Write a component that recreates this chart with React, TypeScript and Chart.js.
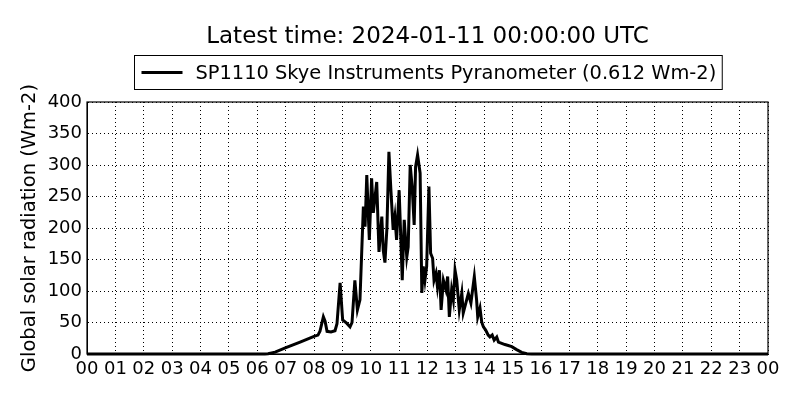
import React, { useEffect, useRef } from 'react';
import { Chart, registerables } from 'chart.js';

Chart.register(...registerables);

const titleText = 'Latest time: 2024-01-11 00:00:00 UTC';
const seriesLabel = 'SP1110 Skye Instruments Pyranometer (0.612 Wm-2)';
const yAxisTitle = 'Global solar radiation (Wm-2)';

const hours = [
  0, 6.27, 6.38, 6.63, 7.01, 7.51, 8.0, 8.14, 8.21, 8.33, 8.39, 8.46, 8.6, 8.74, 8.81, 8.92,
  9.01, 9.15, 9.27, 9.34, 9.44, 9.53, 9.62, 9.74, 9.8, 9.86, 9.95, 10.03, 10.09, 10.21, 10.29,
  10.39, 10.44, 10.5, 10.57, 10.64, 10.71, 10.79, 10.85, 10.91, 11.0, 11.07, 11.11, 11.18, 11.27,
  11.32, 11.39, 11.46, 11.53, 11.58, 11.65, 11.74, 11.8, 11.85, 11.91, 11.97, 12.05, 12.11, 12.18,
  12.23, 12.3, 12.35, 12.42, 12.48, 12.56, 12.65, 12.71, 12.77, 12.85, 12.91, 12.97, 13.03, 13.12,
  13.21, 13.26, 13.38, 13.44, 13.53, 13.65, 13.73, 13.77, 13.85, 13.91, 13.97, 14.05, 14.14, 14.2,
  14.28, 14.35, 14.44, 14.5, 14.73, 14.97, 15.14, 15.32, 15.5, 15.67, 24,
];

const radiation = [
  0, 0, 0.5, 3, 10, 19, 28, 30, 36, 59, 52, 36, 35, 37, 48, 113,
  54, 49, 43, 50, 117, 70, 86, 234, 202, 284, 181, 279, 224, 273, 162,
  218, 165, 145, 200, 321, 260, 197, 218, 181, 260, 170, 117, 213, 154,
  170, 300, 265, 205, 297, 316, 287, 97, 139, 117, 139, 266, 160, 152,
  117, 128, 107, 133, 70, 117, 102, 123, 59, 102, 86, 133, 117, 70,
  97, 65, 86, 96, 81, 123, 86, 59, 73, 51, 43, 38, 30, 27,
  30, 22, 27, 19, 15, 11.6, 7, 2.6, 0.5, 0, 0,
];

const xTickLabels = [
  '00', '01', '02', '03', '04', '05', '06', '07', '08', '09', '10', '11', '12',
  '13', '14', '15', '16', '17', '18', '19', '20', '21', '22', '23', '00',
];

const yMin = 0;
const yMax = 400;
const yStep = 50;

const FONT = '"DejaVu Sans", sans-serif';

const framePlugin = {
  id: 'frameAndLegend',
  afterDraw(chart: any) {
    const { ctx, chartArea } = chart;
    const { left, top, right, bottom } = chartArea;
    ctx.save();
    // axes frame
    ctx.strokeStyle = '#000';
    ctx.lineWidth = 1.2;
    ctx.strokeRect(left, top, right - left, bottom - top);

    // legend box
    const label = chart.data.datasets[0].label as string;
    ctx.font = `19.4px ${FONT}`;
    const tw = ctx.measureText(label).width;
    const padL = 7, lineW = 41, gap = 13, padR = 6;
    const w = padL + lineW + gap + tw + padR;
    const cx = (left + right) / 2;
    const x0 = Math.round(cx - w / 2) + 0.5;
    const h = 34;
    const y0 = Math.round(top - 47) + 0.5;
    ctx.fillStyle = '#fff';
    ctx.fillRect(x0, y0, w, h);
    ctx.strokeStyle = '#000';
    ctx.lineWidth = 1;
    ctx.strokeRect(x0, y0, w, h);
    ctx.lineWidth = 3;
    ctx.beginPath();
    ctx.moveTo(x0 + padL, y0 + h / 2);
    ctx.lineTo(x0 + padL + lineW, y0 + h / 2);
    ctx.stroke();
    ctx.fillStyle = '#000';
    ctx.textBaseline = 'middle';
    ctx.textAlign = 'left';
    ctx.fillText(label, x0 + padL + lineW + gap, y0 + h / 2 + 1);
    ctx.restore();
  },
};

export default function App() {
  const canvasRef = useRef<HTMLCanvasElement | null>(null);

  useEffect(() => {
    document.body.style.margin = '0';
    const canvas = canvasRef.current;
    if (!canvas) return;
    const points = hours.map((hr, i) => ({ x: hr, y: radiation[i] }));
    const chart = new Chart(canvas, {
      type: 'line',
      data: {
        datasets: [
          {
            label: seriesLabel,
            data: points,
            borderColor: '#000',
            backgroundColor: '#000',
            borderWidth: 3,
            pointRadius: 0,
            tension: 0,
            fill: false,
            clip: 4,
          } as any,
        ],
      },
      options: {
        animation: false,
        responsive: true,
        maintainAspectRatio: false,
        layout: { padding: { left: 0, right: 32, top: 0, bottom: 0 } },
        plugins: {
          legend: { display: false },
          tooltip: { enabled: false },
          title: {
            display: true,
            text: titleText,
            color: '#000',
            fullSize: false,
            font: { family: FONT, size: 23, weight: 'normal' },
            padding: { top: 23, bottom: 51.4 },
          },
        },
        scales: {
          x: {
            type: 'linear',
            min: 0,
            max: 24,
            afterFit: (scale: any) => {
              scale.height = 46;
            },
            ticks: {
              stepSize: 1,
              autoSkip: false,
              maxRotation: 0,
              minRotation: 0,
              color: '#000',
              padding: 5,
              font: { family: FONT, size: 18 },
              callback: (_v: any, i: number) => xTickLabels[i],
            },
            grid: { color: '#000', lineWidth: 1, drawTicks: false },
            border: { display: true, color: '#000', width: 1, dash: [1, 3] },
          },
          y: {
            type: 'linear',
            min: yMin,
            max: yMax,
            afterFit: (scale: any) => {
              scale.width = 87;
            },
            ticks: {
              stepSize: yStep,
              color: '#000',
              padding: 5,
              font: { family: FONT, size: 18 },
            },
            grid: { color: '#000', lineWidth: 1, drawTicks: false },
            border: { display: true, color: '#000', width: 1, dash: [1, 3] },
            title: {
              display: true,
              text: yAxisTitle,
              color: '#000',
              font: { family: FONT, size: 19.5 },
              padding: { top: 18, bottom: 0 },
            },
          },
        },
      },
      plugins: [framePlugin],
    });
    return () => chart.destroy();
  }, []);

  return (
    <div style={{ position: 'relative', width: 800, height: 400 }}>
      <canvas ref={canvasRef} />
    </div>
  );
}
